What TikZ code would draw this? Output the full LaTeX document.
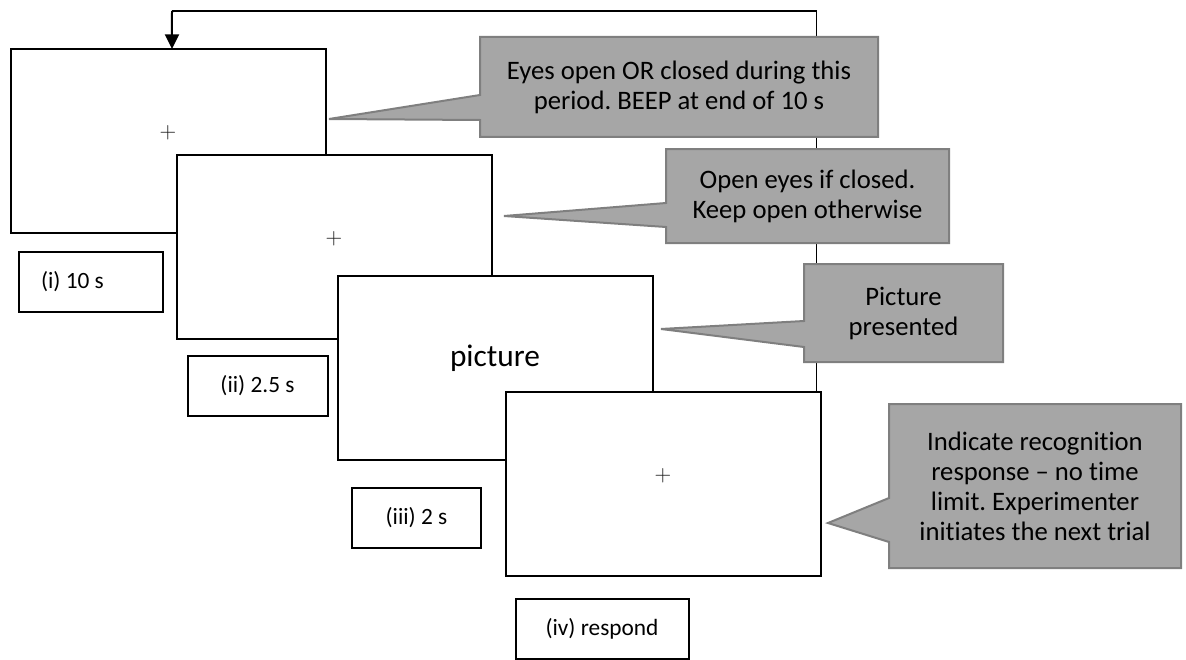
\documentclass[tikz,border=0pt]{standalone}
\usepackage{fontspec}
\setmainfont{Carlito}[Ligatures=NoCommon]
\usetikzlibrary{arrows.meta,backgrounds}
\frenchspacing

\definecolor{notegray}{HTML}{A6A6A6}
\definecolor{noteline}{HTML}{7F7F7F}

\tikzset{
  screen/.style={draw,fill=white,line width=1.5pt,minimum width=236.25pt,minimum height=138pt,inner sep=0pt,outer sep=0pt},
  lbl/.style={draw,fill=white,line width=1.5pt,minimum height=45pt,inner sep=0pt,outer sep=0pt,font=\fontsize{17.5}{22}\selectfont},
  note/.style={inner sep=0pt,outer sep=0pt,align=center,font=\fontsize{20}{22.5}\selectfont},
  notebg/.style={fill=notegray,draw=noteline,line width=1.5pt},
  cross/.style={inner sep=0pt,text=black!90,font=\fontsize{16}{16}\selectfont},
  loopline/.style={line width=0.8pt}
}

\begin{document}
\begin{tikzpicture}[x=0.75pt,y=-0.75pt]
	\useasboundingbox (0,0) rectangle (1186,660);

	% the four screens of one trial
	\node[screen] (s1) at (168.5,141) {};
	\node[cross] (x1) at (168,133) {$+$};
	\node[screen] (s2) at (334.5,247) {};
	\node[cross] (x2) at (334,239) {$+$};
	\node[screen] (s3) at (495,368) {};
	\node[anchor=base,font=\fontsize{23.5}{23.5}\selectfont] (pic) at (495,366) {picture};
	\node[screen] (s4) at (663,484) {};
	\node[cross] (x4) at (663,476) {$+$};

	% durations
	\node[lbl,inner xsep=16.5pt] (l1) at (91,282) {\makebox[75pt][l]{(i) 10 s}};
	\node[lbl,minimum width=105pt] (l2) at (257.5,386) {(ii) 2.5 s};
	\node[lbl,minimum width=96.75pt] (l3) at (416.5,518) {(iii) 2 s};
	\node[lbl,minimum width=129.75pt] (l4) at (602,629) {(iv) respond};

	% back to the start
	\coordinate (back) at (172,11);
	\begin{scope}[on background layer]
		\draw[loopline] ([xshift=-3pt]s4.north east) |- (back);
		\draw[line width=1.5pt,-{Triangle[width=10.5pt,length=11pt]}] (back) -- ([xshift=2.6pt]s1.north);
	\end{scope}

	% notes
	\coordinate (t1) at (329,119);
	\coordinate (t2) at (504,216);
	\coordinate (t3) at (661,329);
	\coordinate (t4) at (828,523);

	\node[note,minimum width=298.5pt,minimum height=75pt] (n1) at (679,87)
		{Eyes open OR closed during this\\period. BEEP at end of 10 s};
	\node[note,minimum width=212.25pt,minimum height=70.5pt] (n2) at (807.5,196)
		{Open eyes if closed.\\Keep open otherwise};
	\node[note,minimum width=149.25pt,minimum height=73.5pt] (n3) at (903.5,313)
		{Picture\\presented};
	\node[note,minimum width=219pt,minimum height=123pt] (n4) at (1035,486)
		{Indicate recognition\\response – no time\\limit. Experimenter\\initiates the next trial};

	\begin{scope}[on background layer]
		\filldraw[notebg] (n1.north west) -- (n1.north east) -- (n1.south east) -- (n1.south west)
			-- ([yshift=12.75pt]n1.south west) -- (t1) -- ([yshift=31.5pt]n1.south west) -- cycle;
		\filldraw[notebg] (n2.north west) -- (n2.north east) -- (n2.south east) -- (n2.south west)
			-- ([yshift=12pt]n2.south west) -- (t2) -- ([yshift=30pt]n2.south west) -- cycle;
		\filldraw[notebg] (n3.north west) -- (n3.north east) -- (n3.south east) -- (n3.south west)
			-- ([yshift=11.25pt]n3.south west) -- (t3) -- ([yshift=30.75pt]n3.south west) -- cycle;
		\filldraw[notebg] (n4.north west) -- (n4.north east) -- (n4.south east) -- (n4.south west)
			-- ([yshift=19.5pt]n4.south west) -- (t4) -- ([yshift=52.5pt]n4.south west) -- cycle;
	\end{scope}
\end{tikzpicture}
\end{document}
